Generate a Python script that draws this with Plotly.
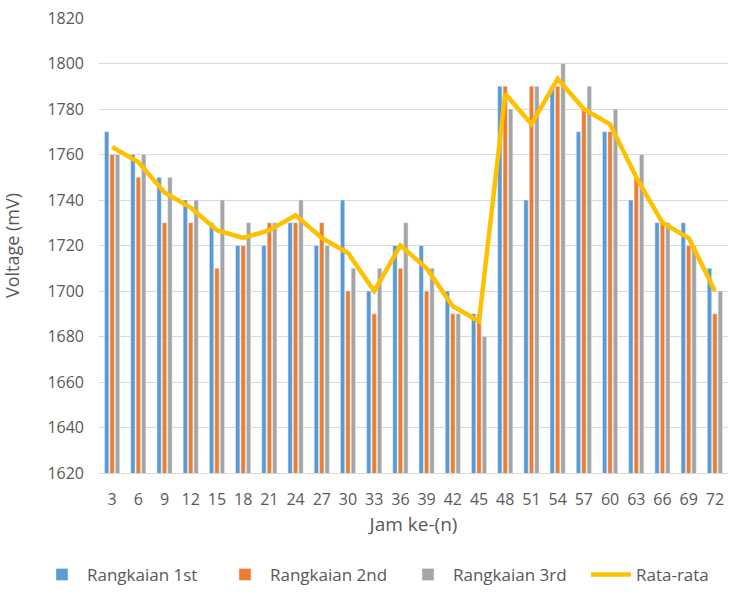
import plotly.graph_objects as go

hours = [3, 6, 9, 12, 15, 18, 21, 24, 27, 30, 33, 36, 39, 42, 45, 48, 51, 54, 57, 60, 63, 66, 69, 72]
rangkaian_1 = [1770, 1760, 1750, 1740, 1730, 1720, 1720, 1730, 1720, 1740, 1700, 1720,
               1720, 1700, 1690, 1790, 1740, 1790, 1770, 1770, 1740, 1730, 1730, 1710]
rangkaian_2 = [1760, 1750, 1730, 1730, 1710, 1720, 1730, 1730, 1730, 1700, 1690, 1710,
               1700, 1690, 1690, 1790, 1790, 1790, 1780, 1770, 1750, 1730, 1720, 1690]
rangkaian_3 = [1760, 1760, 1750, 1740, 1740, 1730, 1730, 1740, 1720, 1710, 1710, 1730,
               1710, 1690, 1680, 1780, 1790, 1800, 1790, 1780, 1760, 1730, 1720, 1700]
rata_rata = [1763.3, 1756.7, 1743.3, 1736.7, 1726.7, 1723.3, 1726.7, 1733.3, 1723.3, 1716.7,
             1700.0, 1720.0, 1710.0, 1693.3, 1686.7, 1786.7, 1773.3, 1793.3, 1780.0, 1773.3,
             1750.0, 1730.0, 1723.3, 1700.0]

cats = [str(h) for h in hours]
font_family = "Open Sans, Liberation Sans, sans-serif"
txt = "#595959"

fig = go.Figure()
fig.add_trace(go.Bar(x=cats, y=rangkaian_1, name="Rangkaian 1st", marker_color="#5B9BD5"))
fig.add_trace(go.Bar(x=cats, y=rangkaian_2, name="Rangkaian 2nd", marker_color="#ED7D31"))
fig.add_trace(go.Bar(x=cats, y=rangkaian_3, name="Rangkaian 3rd", marker_color="#A5A5A5"))
fig.add_trace(go.Scatter(x=cats, y=rata_rata, name="Rata-rata", mode="lines",
                         line=dict(color="#FFC000", width=4.5)))

fig.update_layout(
    width=731, height=596,
    margin=dict(l=99, r=3, t=18, b=123, autoexpand=False),
    paper_bgcolor="white", plot_bgcolor="white",
    barmode="group", bargap=0.38, bargroupgap=0.2,
    font=dict(family=font_family, color=txt, size=15),
    showlegend=True,
    legend=dict(orientation="h", x=-0.0986, xanchor="left", y=-0.224, yanchor="middle",
                font=dict(size=17, color=txt), itemwidth=40, traceorder="normal",
                entrywidth=128, entrywidthmode="pixels"),
)
fig.update_yaxes(range=[1620, 1820], dtick=20, showgrid=True, gridcolor="#D9D9D9",
                 gridwidth=1, zeroline=False, showline=False, automargin=False,
                 tickfont=dict(size=16, color=txt), ticklabelstandoff=14,
                 title=dict(text="Voltage (mV)", font=dict(size=18, color=txt), standoff=30))
fig.update_xaxes(showline=True, linecolor="#D9D9D9", linewidth=1, showgrid=False,
                 automargin=False,
                 tickfont=dict(size=16, color=txt), ticklabelstandoff=12,
                 title=dict(text="Jam ke-(n)", font=dict(size=19, color=txt), standoff=8))

fig.write_html("out.html", config={"displayModeBar": False},
               post_script="document.body.style.margin='0px';document.body.style.overflow='hidden';")
